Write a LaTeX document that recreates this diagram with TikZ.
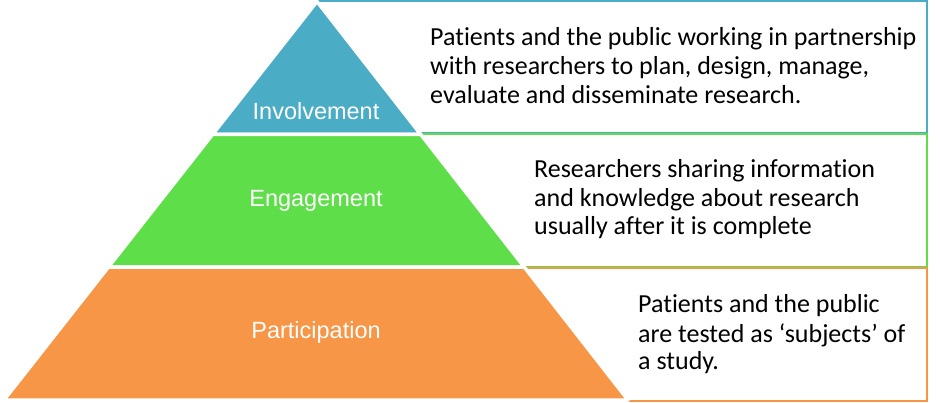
\documentclass[tikz,border=0pt]{standalone}
\usepackage{fontspec}
\setmainfont{Carlito}[Ligatures=NoCommon]
\newfontfamily\labelfont{Liberation Sans}
\usetikzlibrary{calc}
\definecolor{pblue}{RGB}{75,172,198}
\definecolor{pgreen}{RGB}{94,222,72}
\definecolor{porange}{RGB}{247,150,70}
\tikzset{
  layer/.style={draw=white, line width=3.5pt, line join=round},
  descbox/.style={line width=2pt, fill=white},
  desc/.style={anchor=base west, inner sep=0pt, font=\fontsize{26}{29}\selectfont, text=black},
  lvl/.style={anchor=base, inner sep=0pt, font=\labelfont\fontsize{23.5}{28}\selectfont, text=white}
}
\begin{document}
\begin{tikzpicture}[x=1pt,y=-1pt]
\useasboundingbox (0,0) rectangle (940,403);
% description boxes
\draw[descbox, draw=pblue] (317,1.5) rectangle (926.5,133.5);
\draw[descbox, draw=pgreen] (400,134.5) rectangle (926.5,267.5);
\draw[descbox, draw=porange] (500,268) rectangle (926.5,400.5);
% pyramid
\coordinate (A) at (317,1.5);
\coordinate (BL) at (4,400);
\coordinate (BR) at (628,400);
\coordinate (P1L) at ($(A)!1/3!(BL)$);
\coordinate (P1R) at ($(A)!1/3!(BR)$);
\coordinate (P2L) at ($(A)!2/3!(BL)$);
\coordinate (P2R) at ($(A)!2/3!(BR)$);
\filldraw[layer, fill=pblue] (A) -- (P1L) -- (P1R) -- cycle;
\filldraw[layer, fill=pgreen] (P1L) -- (P2L) -- (P2R) -- (P1R) -- cycle;
\filldraw[layer, fill=porange] (P2L) -- (BL) -- (BR) -- (P2R) -- cycle;
% level labels
\node[lvl] (linv) at (316,120) {Involvement};
\node[lvl] (leng) at (316,207) {Engagement};
\node[lvl] (lpar) at (316,338) {Participation};
% descriptions
\node[desc] (inv1) at (430,46) {Patients and the public working in partnership};
\node[desc] (inv2) at (430,75) {with researchers to plan, design, manage,};
\node[desc] (inv3) at (430,104) {evaluate and disseminate research.};
\node[desc] (eng1) at (534,178) {Researchers sharing information};
\node[desc] (eng2) at (534,206.5) {and knowledge about research};
\node[desc] (eng3) at (534,235) {usually after it is complete};
\node[desc] (par1) at (638,313) {Patients and the public};
\node[desc] (par2) at (638,342) {are tested as ‘subjects’ of};
\node[desc] (par3) at (638,370) {a study.};
\end{tikzpicture}
\end{document}
